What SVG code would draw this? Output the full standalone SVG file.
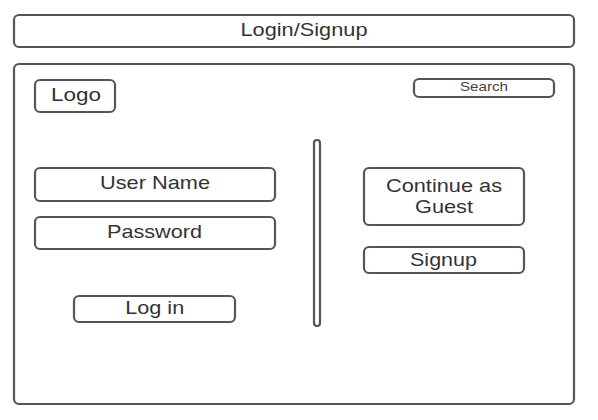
<svg xmlns="http://www.w3.org/2000/svg" width="598" height="420" viewBox="0 0 598 420">
<style>
.b{fill:#fff;stroke:#555;stroke-width:2.2}
.t{font-family:"Liberation Sans",Arial,sans-serif;font-size:19px;fill:#333;text-anchor:middle}
.s{font-family:"Liberation Sans",Arial,sans-serif;font-size:13px;fill:#444;text-anchor:middle}
</style>
<rect width="598" height="420" fill="#fff"/>
<g id="header"><rect class="b" x="14" y="15" width="560" height="32" rx="5"/><text class="t" x="304" y="36" textLength="127" lengthAdjust="spacingAndGlyphs">Login/Signup</text></g>
<g id="frame"><rect class="b" x="14" y="64" width="560" height="340" rx="5"/></g>
<g id="logo"><rect class="b" x="35" y="80" width="80" height="32" rx="5"/><text class="t" x="76" y="101" textLength="50" lengthAdjust="spacingAndGlyphs">Logo</text></g>
<g id="search"><rect class="b" x="414" y="79" width="140" height="18" rx="5"/><text class="s" x="484" y="91" textLength="48" lengthAdjust="spacingAndGlyphs">Search</text></g>
<g id="separator"><rect class="b" x="314" y="140" width="6" height="186" rx="3"/></g>
<g id="username"><rect class="b" x="35" y="168" width="240" height="33" rx="5"/><text class="t" x="155" y="189" textLength="110" lengthAdjust="spacingAndGlyphs">User Name</text></g>
<g id="password"><rect class="b" x="35" y="217" width="240" height="32" rx="5"/><text class="t" x="154.5" y="237.5" textLength="95" lengthAdjust="spacingAndGlyphs">Password</text></g>
<g id="login"><rect class="b" x="74" y="296" width="161" height="26" rx="5"/><text class="t" x="154.7" y="314" textLength="59" lengthAdjust="spacingAndGlyphs">Log in</text></g>
<g id="guest"><rect class="b" x="364" y="168" width="160" height="57" rx="5"/><text class="t" x="444" y="192" textLength="116" lengthAdjust="spacingAndGlyphs">Continue as</text><text class="t" x="444" y="213" textLength="58" lengthAdjust="spacingAndGlyphs">Guest</text></g>
<g id="signup"><rect class="b" x="364" y="247" width="160" height="26" rx="5"/><text class="t" x="443.5" y="266" textLength="67" lengthAdjust="spacingAndGlyphs">Signup</text></g>
<g id="connectors"></g>
</svg>
